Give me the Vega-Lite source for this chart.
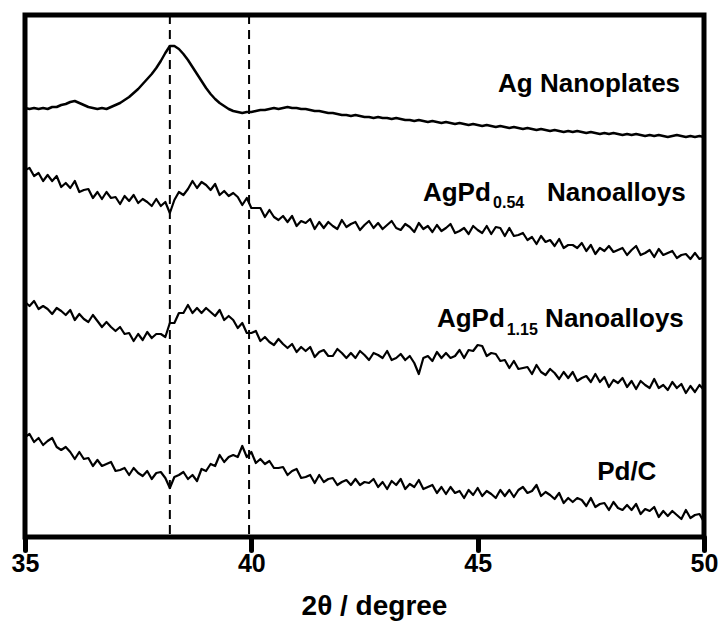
{
"$schema": "https://vega.github.io/schema/vega-lite/v6.json",
"width": 679, "height": 522,
"autosize": {"type": "none"},
"padding": {"left": 25, "top": 15, "right": 18, "bottom": 89},
"background": "white",
"config": {"view": {"stroke": "black", "strokeWidth": 5}, "font": "Liberation Sans"},
"datasets": {
"A": [{"x":35,"y":892},{"x":35.1,"y":891},{"x":35.2,"y":892},{"x":35.3,"y":891},{"x":35.4,"y":892},{"x":35.5,"y":891},{"x":35.6,"y":893},{"x":35.7,"y":893},{"x":35.8,"y":895},{"x":35.9,"y":896},{"x":36,"y":898},{"x":36.1,"y":899},{"x":36.2,"y":897},{"x":36.3,"y":895},{"x":36.4,"y":893},{"x":36.5,"y":892},{"x":36.6,"y":891},{"x":36.7,"y":892},{"x":36.8,"y":891},{"x":36.9,"y":893},{"x":37,"y":895},{"x":37.1,"y":897},{"x":37.2,"y":900},{"x":37.3,"y":903},{"x":37.4,"y":907},{"x":37.5,"y":911},{"x":37.6,"y":916},{"x":37.7,"y":921},{"x":37.8,"y":926},{"x":37.9,"y":932},{"x":38,"y":939},{"x":38.1,"y":947},{"x":38.2,"y":954},{"x":38.3,"y":954},{"x":38.4,"y":951},{"x":38.5,"y":946},{"x":38.6,"y":940},{"x":38.7,"y":933},{"x":38.8,"y":926},{"x":38.9,"y":919},{"x":39,"y":912},{"x":39.1,"y":906},{"x":39.2,"y":901},{"x":39.3,"y":897},{"x":39.4,"y":894},{"x":39.5,"y":891},{"x":39.6,"y":889},{"x":39.7,"y":888},{"x":39.8,"y":887},{"x":39.9,"y":888},{"x":40,"y":888},{"x":40.1,"y":889},{"x":40.2,"y":890},{"x":40.3,"y":890},{"x":40.4,"y":891},{"x":40.5,"y":892},{"x":40.6,"y":891},{"x":40.7,"y":892},{"x":40.8,"y":893},{"x":40.9,"y":892},{"x":41,"y":892},{"x":41.1,"y":891},{"x":41.2,"y":891},{"x":41.3,"y":890},{"x":41.4,"y":889},{"x":41.5,"y":889},{"x":41.6,"y":888},{"x":41.7,"y":887},{"x":41.8,"y":887},{"x":41.9,"y":886},{"x":42,"y":885},{"x":42.1,"y":885},{"x":42.2,"y":884},{"x":42.3,"y":885},{"x":42.4,"y":884},{"x":42.5,"y":883},{"x":42.6,"y":883},{"x":42.7,"y":882},{"x":42.8,"y":883},{"x":42.9,"y":882},{"x":43,"y":882},{"x":43.1,"y":881},{"x":43.2,"y":882},{"x":43.3,"y":881},{"x":43.4,"y":880},{"x":43.5,"y":880},{"x":43.6,"y":879},{"x":43.7,"y":880},{"x":43.8,"y":879},{"x":43.9,"y":878},{"x":44,"y":879},{"x":44.1,"y":878},{"x":44.2,"y":877},{"x":44.3,"y":878},{"x":44.4,"y":877},{"x":44.5,"y":876},{"x":44.6,"y":877},{"x":44.7,"y":876},{"x":44.8,"y":875},{"x":44.9,"y":876},{"x":45,"y":875},{"x":45.1,"y":874},{"x":45.2,"y":875},{"x":45.3,"y":874},{"x":45.4,"y":873},{"x":45.5,"y":874},{"x":45.6,"y":873},{"x":45.7,"y":872},{"x":45.8,"y":873},{"x":45.9,"y":872},{"x":46,"y":871},{"x":46.1,"y":872},{"x":46.2,"y":871},{"x":46.3,"y":870},{"x":46.4,"y":871},{"x":46.5,"y":870},{"x":46.6,"y":869},{"x":46.7,"y":870},{"x":46.8,"y":869},{"x":46.9,"y":868},{"x":47,"y":869},{"x":47.1,"y":868},{"x":47.2,"y":869},{"x":47.3,"y":868},{"x":47.4,"y":867},{"x":47.5,"y":868},{"x":47.6,"y":867},{"x":47.7,"y":866},{"x":47.8,"y":867},{"x":47.9,"y":866},{"x":48,"y":867},{"x":48.1,"y":866},{"x":48.2,"y":865},{"x":48.3,"y":866},{"x":48.4,"y":865},{"x":48.5,"y":866},{"x":48.6,"y":865},{"x":48.7,"y":864},{"x":48.8,"y":865},{"x":48.9,"y":864},{"x":49,"y":865},{"x":49.1,"y":864},{"x":49.2,"y":863},{"x":49.3,"y":864},{"x":49.4,"y":865},{"x":49.5,"y":864},{"x":49.6,"y":863},{"x":49.7,"y":864},{"x":49.8,"y":863},{"x":49.9,"y":864},{"x":50,"y":863}],
"B": [{"x":35,"y":830},{"x":35.1,"y":832},{"x":35.2,"y":824},{"x":35.3,"y":827},{"x":35.4,"y":819},{"x":35.5,"y":825},{"x":35.6,"y":819},{"x":35.7,"y":824},{"x":35.8,"y":813},{"x":35.9,"y":817},{"x":36,"y":812},{"x":36.1,"y":819},{"x":36.2,"y":808},{"x":36.3,"y":810},{"x":36.4,"y":811},{"x":36.5,"y":802},{"x":36.6,"y":808},{"x":36.7,"y":801},{"x":36.8,"y":808},{"x":36.9,"y":802},{"x":37,"y":803},{"x":37.1,"y":796},{"x":37.2,"y":804},{"x":37.3,"y":799},{"x":37.4,"y":805},{"x":37.5,"y":797},{"x":37.6,"y":801},{"x":37.7,"y":798},{"x":37.8,"y":794},{"x":37.9,"y":801},{"x":38,"y":794},{"x":38.1,"y":798},{"x":38.2,"y":787},{"x":38.3,"y":800},{"x":38.4,"y":808},{"x":38.5,"y":805},{"x":38.6,"y":811},{"x":38.7,"y":819},{"x":38.8,"y":812},{"x":38.9,"y":818},{"x":39,"y":815},{"x":39.1,"y":810},{"x":39.2,"y":816},{"x":39.3,"y":805},{"x":39.4,"y":809},{"x":39.5,"y":804},{"x":39.6,"y":807},{"x":39.7,"y":803},{"x":39.8,"y":795},{"x":39.9,"y":802},{"x":40,"y":792},{"x":40.1,"y":792},{"x":40.2,"y":792},{"x":40.3,"y":783},{"x":40.4,"y":790},{"x":40.5,"y":783},{"x":40.6,"y":780},{"x":40.7,"y":784},{"x":40.8,"y":778},{"x":40.9,"y":784},{"x":41,"y":774},{"x":41.1,"y":779},{"x":41.2,"y":777},{"x":41.3,"y":781},{"x":41.4,"y":771},{"x":41.5,"y":778},{"x":41.6,"y":772},{"x":41.7,"y":778},{"x":41.8,"y":774},{"x":41.9,"y":771},{"x":42,"y":780},{"x":42.1,"y":773},{"x":42.2,"y":776},{"x":42.3,"y":778},{"x":42.4,"y":770},{"x":42.5,"y":775},{"x":42.6,"y":779},{"x":42.7,"y":772},{"x":42.8,"y":777},{"x":42.9,"y":771},{"x":43,"y":775},{"x":43.1,"y":779},{"x":43.2,"y":772},{"x":43.3,"y":770},{"x":43.4,"y":776},{"x":43.5,"y":773},{"x":43.6,"y":768},{"x":43.7,"y":777},{"x":43.8,"y":771},{"x":43.9,"y":774},{"x":44,"y":768},{"x":44.1,"y":775},{"x":44.2,"y":769},{"x":44.3,"y":772},{"x":44.4,"y":776},{"x":44.5,"y":767},{"x":44.6,"y":769},{"x":44.7,"y":772},{"x":44.8,"y":766},{"x":44.9,"y":774},{"x":45,"y":770},{"x":45.1,"y":767},{"x":45.2,"y":774},{"x":45.3,"y":766},{"x":45.4,"y":773},{"x":45.5,"y":772},{"x":45.6,"y":764},{"x":45.7,"y":772},{"x":45.8,"y":764},{"x":45.9,"y":765},{"x":46,"y":767},{"x":46.1,"y":760},{"x":46.2,"y":763},{"x":46.3,"y":756},{"x":46.4,"y":764},{"x":46.5,"y":758},{"x":46.6,"y":760},{"x":46.7,"y":754},{"x":46.8,"y":761},{"x":46.9,"y":752},{"x":47,"y":755},{"x":47.1,"y":755},{"x":47.2,"y":752},{"x":47.3,"y":757},{"x":47.4,"y":749},{"x":47.5,"y":755},{"x":47.6,"y":746},{"x":47.7,"y":752},{"x":47.8,"y":749},{"x":47.9,"y":754},{"x":48,"y":748},{"x":48.1,"y":750},{"x":48.2,"y":752},{"x":48.3,"y":745},{"x":48.4,"y":750},{"x":48.5,"y":754},{"x":48.6,"y":745},{"x":48.7,"y":747},{"x":48.8,"y":750},{"x":48.9,"y":743},{"x":49,"y":751},{"x":49.1,"y":745},{"x":49.2,"y":747},{"x":49.3,"y":749},{"x":49.4,"y":742},{"x":49.5,"y":745},{"x":49.6,"y":746},{"x":49.7,"y":741},{"x":49.8,"y":747},{"x":49.9,"y":741},{"x":50,"y":743}],
"C": [{"x":35,"y":698},{"x":35.1,"y":694},{"x":35.2,"y":699},{"x":35.3,"y":691},{"x":35.4,"y":694},{"x":35.5,"y":691},{"x":35.6,"y":686},{"x":35.7,"y":692},{"x":35.8,"y":689},{"x":35.9,"y":685},{"x":36,"y":690},{"x":36.1,"y":680},{"x":36.2,"y":686},{"x":36.3,"y":681},{"x":36.4,"y":678},{"x":36.5,"y":685},{"x":36.6,"y":679},{"x":36.7,"y":673},{"x":36.8,"y":678},{"x":36.9,"y":673},{"x":37,"y":669},{"x":37.1,"y":673},{"x":37.2,"y":666},{"x":37.3,"y":667},{"x":37.4,"y":659},{"x":37.5,"y":666},{"x":37.6,"y":660},{"x":37.7,"y":668},{"x":37.8,"y":662},{"x":37.9,"y":666},{"x":38,"y":666},{"x":38.1,"y":663},{"x":38.2,"y":677},{"x":38.3,"y":677},{"x":38.4,"y":687},{"x":38.5,"y":687},{"x":38.6,"y":695},{"x":38.7,"y":687},{"x":38.8,"y":692},{"x":38.9,"y":687},{"x":39,"y":692},{"x":39.1,"y":688},{"x":39.2,"y":684},{"x":39.3,"y":690},{"x":39.4,"y":680},{"x":39.5,"y":684},{"x":39.6,"y":680},{"x":39.7,"y":672},{"x":39.8,"y":677},{"x":39.9,"y":667},{"x":40,"y":667},{"x":40.1,"y":669},{"x":40.2,"y":659},{"x":40.3,"y":663},{"x":40.4,"y":658},{"x":40.5,"y":655},{"x":40.6,"y":661},{"x":40.7,"y":656},{"x":40.8,"y":652},{"x":40.9,"y":656},{"x":41,"y":648},{"x":41.1,"y":653},{"x":41.2,"y":649},{"x":41.3,"y":653},{"x":41.4,"y":643},{"x":41.5,"y":648},{"x":41.6,"y":650},{"x":41.7,"y":644},{"x":41.8,"y":644},{"x":41.9,"y":651},{"x":42,"y":647},{"x":42.1,"y":642},{"x":42.2,"y":647},{"x":42.3,"y":642},{"x":42.4,"y":649},{"x":42.5,"y":645},{"x":42.6,"y":640},{"x":42.7,"y":647},{"x":42.8,"y":645},{"x":42.9,"y":642},{"x":43,"y":649},{"x":43.1,"y":640},{"x":43.2,"y":642},{"x":43.3,"y":646},{"x":43.4,"y":640},{"x":43.5,"y":644},{"x":43.6,"y":637},{"x":43.7,"y":626},{"x":43.8,"y":642},{"x":43.9,"y":644},{"x":44,"y":639},{"x":44.1,"y":648},{"x":44.2,"y":642},{"x":44.3,"y":647},{"x":44.4,"y":642},{"x":44.5,"y":644},{"x":44.6,"y":650},{"x":44.7,"y":642},{"x":44.8,"y":650},{"x":44.9,"y":649},{"x":45,"y":655},{"x":45.1,"y":654},{"x":45.2,"y":644},{"x":45.3,"y":647},{"x":45.4,"y":646},{"x":45.5,"y":639},{"x":45.6,"y":640},{"x":45.7,"y":632},{"x":45.8,"y":639},{"x":45.9,"y":631},{"x":46,"y":632},{"x":46.1,"y":633},{"x":46.2,"y":626},{"x":46.3,"y":635},{"x":46.4,"y":628},{"x":46.5,"y":625},{"x":46.6,"y":631},{"x":46.7,"y":627},{"x":46.8,"y":621},{"x":46.9,"y":628},{"x":47,"y":622},{"x":47.1,"y":628},{"x":47.2,"y":619},{"x":47.3,"y":622},{"x":47.4,"y":624},{"x":47.5,"y":618},{"x":47.6,"y":626},{"x":47.7,"y":618},{"x":47.8,"y":623},{"x":47.9,"y":613},{"x":48,"y":620},{"x":48.1,"y":617},{"x":48.2,"y":622},{"x":48.3,"y":613},{"x":48.4,"y":619},{"x":48.5,"y":611},{"x":48.6,"y":619},{"x":48.7,"y":615},{"x":48.8,"y":612},{"x":48.9,"y":621},{"x":49,"y":612},{"x":49.1,"y":615},{"x":49.2,"y":610},{"x":49.3,"y":618},{"x":49.4,"y":612},{"x":49.5,"y":616},{"x":49.6,"y":607},{"x":49.7,"y":614},{"x":49.8,"y":608},{"x":49.9,"y":615},{"x":50,"y":610}],
"D": [{"x":35,"y":563},{"x":35.1,"y":566},{"x":35.2,"y":558},{"x":35.3,"y":562},{"x":35.4,"y":555},{"x":35.5,"y":559},{"x":35.6,"y":562},{"x":35.7,"y":553},{"x":35.8,"y":550},{"x":35.9,"y":553},{"x":36,"y":548},{"x":36.1,"y":541},{"x":36.2,"y":548},{"x":36.3,"y":541},{"x":36.4,"y":542},{"x":36.5,"y":534},{"x":36.6,"y":540},{"x":36.7,"y":534},{"x":36.8,"y":536},{"x":36.9,"y":538},{"x":37,"y":529},{"x":37.1,"y":530},{"x":37.2,"y":532},{"x":37.3,"y":525},{"x":37.4,"y":532},{"x":37.5,"y":527},{"x":37.6,"y":524},{"x":37.7,"y":529},{"x":37.8,"y":521},{"x":37.9,"y":527},{"x":38,"y":528},{"x":38.1,"y":522},{"x":38.2,"y":512},{"x":38.3,"y":523},{"x":38.4,"y":525},{"x":38.5,"y":528},{"x":38.6,"y":521},{"x":38.7,"y":525},{"x":38.8,"y":519},{"x":38.9,"y":531},{"x":39,"y":529},{"x":39.1,"y":536},{"x":39.2,"y":534},{"x":39.3,"y":545},{"x":39.4,"y":538},{"x":39.5,"y":543},{"x":39.6,"y":545},{"x":39.7,"y":543},{"x":39.8,"y":554},{"x":39.9,"y":543},{"x":40,"y":548},{"x":40.1,"y":537},{"x":40.2,"y":541},{"x":40.3,"y":536},{"x":40.4,"y":539},{"x":40.5,"y":532},{"x":40.6,"y":532},{"x":40.7,"y":533},{"x":40.8,"y":525},{"x":40.9,"y":529},{"x":41,"y":531},{"x":41.1,"y":522},{"x":41.2,"y":523},{"x":41.3,"y":525},{"x":41.4,"y":517},{"x":41.5,"y":525},{"x":41.6,"y":518},{"x":41.7,"y":521},{"x":41.8,"y":522},{"x":41.9,"y":515},{"x":42,"y":518},{"x":42.1,"y":520},{"x":42.2,"y":515},{"x":42.3,"y":521},{"x":42.4,"y":515},{"x":42.5,"y":518},{"x":42.6,"y":517},{"x":42.7,"y":521},{"x":42.8,"y":513},{"x":42.9,"y":518},{"x":43,"y":511},{"x":43.1,"y":519},{"x":43.2,"y":515},{"x":43.3,"y":521},{"x":43.4,"y":511},{"x":43.5,"y":516},{"x":43.6,"y":513},{"x":43.7,"y":520},{"x":43.8,"y":511},{"x":43.9,"y":513},{"x":44,"y":515},{"x":44.1,"y":507},{"x":44.2,"y":513},{"x":44.3,"y":506},{"x":44.4,"y":513},{"x":44.5,"y":507},{"x":44.6,"y":509},{"x":44.7,"y":502},{"x":44.8,"y":510},{"x":44.9,"y":505},{"x":45,"y":512},{"x":45.1,"y":504},{"x":45.2,"y":509},{"x":45.3,"y":506},{"x":45.4,"y":502},{"x":45.5,"y":510},{"x":45.6,"y":504},{"x":45.7,"y":510},{"x":45.8,"y":503},{"x":45.9,"y":510},{"x":46,"y":513},{"x":46.1,"y":507},{"x":46.2,"y":509},{"x":46.3,"y":515},{"x":46.4,"y":504},{"x":46.5,"y":508},{"x":46.6,"y":505},{"x":46.7,"y":501},{"x":46.8,"y":507},{"x":46.9,"y":497},{"x":47,"y":502},{"x":47.1,"y":498},{"x":47.2,"y":502},{"x":47.3,"y":500},{"x":47.4,"y":494},{"x":47.5,"y":502},{"x":47.6,"y":493},{"x":47.7,"y":496},{"x":47.8,"y":497},{"x":47.9,"y":490},{"x":48,"y":498},{"x":48.1,"y":492},{"x":48.2,"y":490},{"x":48.3,"y":495},{"x":48.4,"y":490},{"x":48.5,"y":496},{"x":48.6,"y":486},{"x":48.7,"y":491},{"x":48.8,"y":489},{"x":48.9,"y":493},{"x":49,"y":483},{"x":49.1,"y":489},{"x":49.2,"y":484},{"x":49.3,"y":489},{"x":49.4,"y":485},{"x":49.5,"y":481},{"x":49.6,"y":490},{"x":49.7,"y":482},{"x":49.8,"y":485},{"x":49.9,"y":486},{"x":50,"y":478}],
"peaks": [{"x":38.2},{"x":39.95}],
"labels": [{"x":45.45,"y":908,"t":"Ag Nanoplates"},{"x":43.79,"y":799,"t":"AgPd"},{"x":46.53,"y":799,"t":"Nanoalloys"},{"x":44.1,"y":673,"t":"AgPd"},{"x":46.49,"y":673,"t":"Nanoalloys"},{"x":47.64,"y":520,"t":"Pd/C"}],
"subs": [{"x":45.34,"y":792,"t":"0.54"},{"x":45.64,"y":665,"t":"1.15"}]
},
"layer": [
{"data": {"name": "peaks"}, "mark": {"type": "rule", "color": "black", "strokeWidth": 2, "strokeDash": [9, 6]},
 "encoding": {"x": {"field": "x", "type": "quantitative", "scale": {"domain": [35, 50], "nice": false, "zero": false},
  "axis": {"values": [35, 40, 45, 50], "grid": false, "domain": false, "tickSize": 13, "tickWidth": 5, "tickColor": "black", "tickCap": "round",
   "labelFont": "Liberation Sans", "labelFontWeight": "bold", "labelFontSize": 25, "labelColor": "black", "labelPadding": 1, "labelFlush": false, "labelBound": false, "labelOverlap": false,
   "title": "2θ / degree", "titleFont": "Liberation Sans", "titleFontWeight": "bold", "titleFontSize": 28, "titleColor": "black", "titleBaseline": "alphabetic", "titleAlign": "center", "titleX": 349, "titleY": 77}}}},
{"data": {"name": "A"}, "mark": {"type": "line", "color": "black", "strokeWidth": 2.5, "strokeJoin": "round"},
 "encoding": {"x": {"field": "x", "type": "quantitative"}, "y": {"field": "y", "type": "quantitative", "scale": {"domain": [463, 985], "nice": false, "zero": false}, "axis": null}}},
{"data": {"name": "B"}, "mark": {"type": "line", "color": "black", "strokeWidth": 2.2, "strokeJoin": "round"},
 "encoding": {"x": {"field": "x", "type": "quantitative"}, "y": {"field": "y", "type": "quantitative"}}},
{"data": {"name": "C"}, "mark": {"type": "line", "color": "black", "strokeWidth": 2.2, "strokeJoin": "round"},
 "encoding": {"x": {"field": "x", "type": "quantitative"}, "y": {"field": "y", "type": "quantitative"}}},
{"data": {"name": "D"}, "mark": {"type": "line", "color": "black", "strokeWidth": 2.2, "strokeJoin": "round"},
 "encoding": {"x": {"field": "x", "type": "quantitative"}, "y": {"field": "y", "type": "quantitative"}}},
{"data": {"name": "labels"}, "mark": {"type": "text", "align": "left", "baseline": "alphabetic", "font": "Liberation Sans", "fontWeight": "bold", "fontSize": 26, "color": "black"},
 "encoding": {"x": {"field": "x", "type": "quantitative"}, "y": {"field": "y", "type": "quantitative"}, "text": {"field": "t"}}},
{"data": {"name": "subs"}, "mark": {"type": "text", "align": "left", "baseline": "alphabetic", "font": "Liberation Sans", "fontWeight": "bold", "fontSize": 16, "color": "black"},
 "encoding": {"x": {"field": "x", "type": "quantitative"}, "y": {"field": "y", "type": "quantitative"}, "text": {"field": "t"}}}
]
}
